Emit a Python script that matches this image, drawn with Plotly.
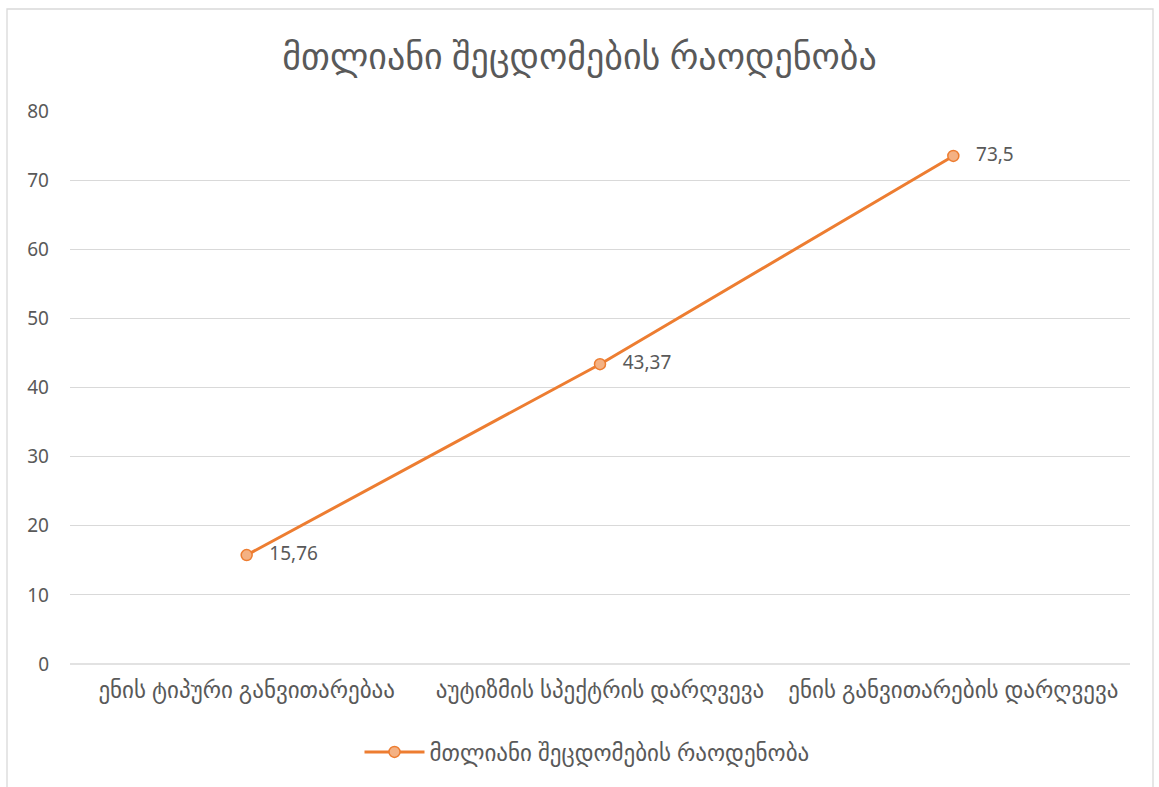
import plotly.graph_objects as go

title = "მთლიანი შეცდომების რაოდენობა"
categories = ["ენის ტიპური განვითარებაა", "აუტიზმის სპექტრის დარღვევა", "ენის განვითარების დარღვევა"]
values = [15.76, 43.37, 73.5]
value_labels = ["15,76", "43,37", "73,5"]
y_ticks = [0, 10, 20, 30, 40, 50, 60, 70, 80]

W, H = 1159, 787
L, R, T, B = 70, 29, 111, 123
FONT = "Noto Sans, DejaVu Sans, sans-serif"
GRAY = "#595959"

fig = go.Figure()
fig.add_trace(go.Scatter(
    x=categories, y=values, mode="lines+markers+text",
    name=title,
    line=dict(color="#ED7D31", width=3),
    marker=dict(size=11, color="#F4B183", line=dict(color="#ED7D31", width=1.5)),
    text=["   " + t for t in value_labels], textposition="middle right",
    textfont=dict(size=19, color=GRAY, family=FONT),
    cliponaxis=False,
))

pw = W - L - R
ph = H - T - B
def px2x(px):
    return (px - L) / pw
def py2y(py):
    return (H - B - py) / ph

fig.update_layout(
    width=W, height=H,
    margin=dict(l=L, r=R, t=T, b=B),
    paper_bgcolor="white", plot_bgcolor="white",
    font=dict(family=FONT, color=GRAY, size=18),
    title=dict(text=title, x=0.5, xanchor="center", y=1 - 56 / H, yanchor="middle",
               font=dict(size=36, color=GRAY, family=FONT)),
    xaxis=dict(showgrid=False, showline=False, zeroline=False, ticks="",
               tickfont=dict(size=23, color=GRAY), range=[-0.5, 2.5],
               ticklabelstandoff=10),
    yaxis=dict(range=[0, 80], tickvals=y_ticks, showgrid=True, gridcolor="#D9D9D9",
               gridwidth=1.3, zeroline=False, showline=False, ticks="",
               tickfont=dict(size=19, color=GRAY), ticklabelstandoff=20),
    showlegend=True,
    legend=dict(orientation="h", x=px2x(587), xanchor="center", y=py2y(752), yanchor="middle",
                font=dict(size=23, color=GRAY), itemwidth=60),
    shapes=[
        dict(type="line", xref="paper", yref="paper", x0=0, x1=1, y0=0, y1=0,
             line=dict(color="#D9D9D9", width=1.3)),
        dict(type="rect", xref="paper", yref="paper",
             x0=px2x(7), x1=px2x(1153), y0=py2y(800), y1=py2y(9),
             line=dict(color="#D9D9D9", width=1.3), layer="below"),
    ],
)

fig.write_html("out.html", config={"displayModeBar": False},
               post_script="document.body.style.margin='0';")
